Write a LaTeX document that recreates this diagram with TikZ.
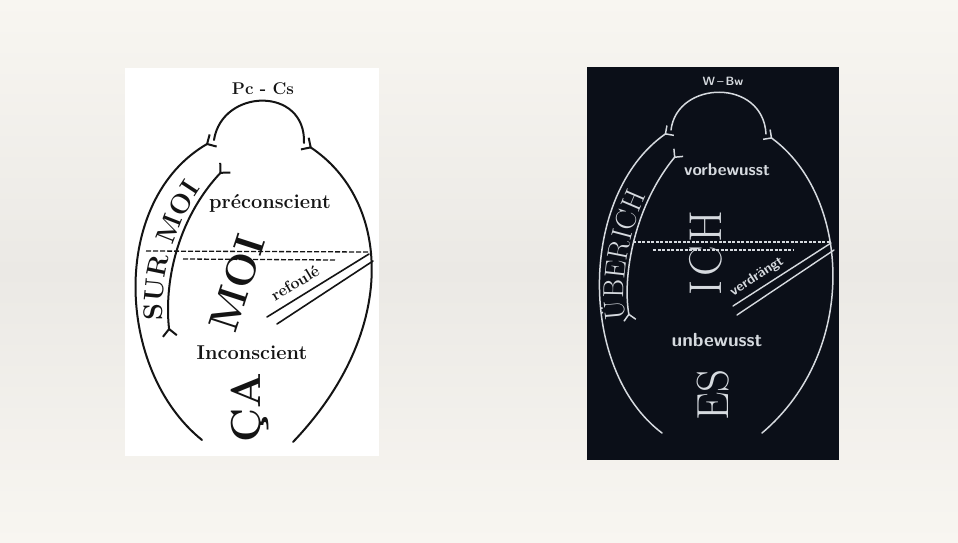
\documentclass[tikz,border=0pt]{standalone}
\usepackage{fontspec}
\usetikzlibrary{arrows.meta,decorations.text}
\definecolor{paper}{HTML}{F8F6F1}
\definecolor{paperdim}{HTML}{EBE9E5}
\definecolor{board}{HTML}{0B0F18}
\definecolor{chalk}{HTML}{D6DADF}
\definecolor{ink}{HTML}{141414}
\tikzset{
  yfork/.tip={Straight Barb[reversed,length=7pt,width=14pt]},
  cfork/.tip={Straight Barb[reversed,length=6pt,width=12pt]},
  inkpen/.style={draw=ink,line width=2pt,line cap=round},
  chalkpen/.style={draw=chalk,line width=1.5pt,line cap=round},
  inkdash/.style={draw=ink,line width=1.3pt,dash pattern=on 5pt off 2pt},
  chalkdash/.style={draw=chalk,line width=1.3pt,dash pattern=on 3pt off 1.5pt},
  inklabel/.style={text=ink,inner sep=0pt,font=\bfseries\fontsize{20}{20}\selectfont},
  chalklabel/.style={text=chalk,inner sep=0pt,font=\sffamily\bfseries\fontsize{17}{17}\selectfont},
  bigcaps/.style={inner sep=0pt,font=\fontsize{44}{44}\selectfont}
}
\begin{document}
\begin{tikzpicture}[x=1pt,y=-1pt]
  \useasboundingbox (0,0) rectangle (958,543);
  \shade[top color=paper,bottom color=paper,middle color=paperdim] (0,0) rectangle (958,543);
  \fill[white] (125,68) rectangle (379,456);
  \fill[board] (587,67) rectangle (839,460);

  % french sketch
  \coordinate (fJL) at (214,140);
  \coordinate (fJR) at (304,143);
  \coordinate (fBL) at (202,440);
  \coordinate (fBR) at (293,442);
  \coordinate (fIB) at (170,337);
  \coordinate (fIT) at (226,167);
  \draw[inkpen,-{yfork}] (fBL) .. controls (115,370) and (110,200) .. (fJL);
  \draw[inkpen] (fJL) .. controls (222,88) and (306,86) .. (fJR);
  \draw[inkpen,-{yfork}] (fBR) .. controls (400,330) and (390,200) .. (fJR);
  \draw[inkpen,{yfork}-{yfork}] (fIB) .. controls (164,285) and (176,220) .. (fIT);
  \path[decorate,decoration={text along path,text align={left,left indent=17pt},raise=6pt,text color=ink,
    text={|\bfseries\fontsize{27}{27}\selectfont|SUR MOI}}] (fIB) .. controls (164,285) and (176,220) .. (fIT);

  \coordinate (fD1a) at (146,251);
  \coordinate (fD1b) at (369,252);
  \coordinate (fD2a) at (183,259);
  \coordinate (fD2b) at (336,260);
  \draw[inkdash] (fD1a) -- (fD1b);
  \draw[inkdash] (fD2a) -- (fD2b);
  \coordinate (fR1a) at (369,254);
  \coordinate (fR1b) at (267,317);
  \coordinate (fR2a) at (373,261);
  \coordinate (fR2b) at (277,324);
  \draw[inkpen,line width=1.6pt] (fR1a) -- (fR1b);
  \draw[inkpen,line width=1.6pt] (fR2a) -- (fR2b);

  \node[inklabel,font=\bfseries\fontsize{17}{17}\selectfont] (pccs) at (263,89) {Pc - Cs};
  \node[inklabel] (precons) at (270,203) {préconscient};
  \node[bigcaps,text=ink,font=\bfseries\fontsize{42}{42}\selectfont,rotate=72] (moi) at (237,283) {MOI};
  \node[inklabel,font=\bfseries\fontsize{16}{16}\selectfont,rotate=31] (refoule) at (295,283) {refoulé};
  \node[inklabel,font=\bfseries\fontsize{20}{20}\selectfont] (incons) at (252,353) {Inconscient};
  \node[bigcaps,text=ink,font=\bfseries\fontsize{42}{42}\selectfont,rotate=90] (ca) at (250,408) {ÇA};

  % german sketch
  \coordinate (gJL) at (671,130);
  \coordinate (gJR) at (766,134);
  \coordinate (gBL) at (662,433);
  \coordinate (gBR) at (762,433);
  \coordinate (gIB) at (630,321);
  \coordinate (gIT) at (679,152);
  \draw[chalkpen,-{cfork}] (gBL) .. controls (578,370) and (578,195) .. (gJL);
  \draw[chalkpen] (gJL) .. controls (677,80) and (763,78) .. (gJR);
  \draw[chalkpen,-{cfork}] (gBR) .. controls (860,350) and (850,195) .. (gJR);
  \draw[chalkpen,{cfork}-{cfork}] (gIB) .. controls (622,275) and (635,205) .. (gIT);
  \path[decorate,decoration={text along path,text align={left,left indent=2pt},raise=4pt,text color=chalk,
    text={|\fontsize{29}{29}\selectfont|ÜBERICH}}] (gIB) .. controls (622,275) and (635,205) .. (gIT);

  \coordinate (gD1a) at (633,242);
  \coordinate (gD1b) at (831,242);
  \coordinate (gD2a) at (653,250);
  \coordinate (gD2b) at (794,250);
  \draw[chalkdash] (gD1a) -- (gD1b);
  \draw[chalkdash] (gD2a) -- (gD2b);
  \coordinate (gV1a) at (831,243);
  \coordinate (gV1b) at (733,306);
  \coordinate (gV2a) at (834,250);
  \coordinate (gV2b) at (737,315);
  \draw[chalkpen,line width=1.4pt] (gV1a) -- (gV1b);
  \draw[chalkpen,line width=1.4pt] (gV2a) -- (gV2b);

  \node[chalklabel,font=\sffamily\bfseries\fontsize{12}{12}\selectfont] (wbw) at (723,81) {W\,--\,Bw};
  \node[chalklabel] (vorbew) at (727,170) {vorbewusst};
  \node[bigcaps,text=chalk,font=\fontsize{46}{46}\selectfont,rotate=90] (ich) at (706,253) {I\kern4pt C\kern4pt H};
  \node[chalklabel,font=\sffamily\bfseries\fontsize{14}{14}\selectfont,rotate=33] (verdr) at (757,277) {verdrängt};
  \node[chalklabel,font=\sffamily\bfseries\fontsize{19}{19}\selectfont] (unbew) at (717,340) {unbewusst};
  \node[bigcaps,text=chalk,font=\fontsize{45}{45}\selectfont,rotate=90] (es) at (713,395) {ES};
\end{tikzpicture}
\end{document}
